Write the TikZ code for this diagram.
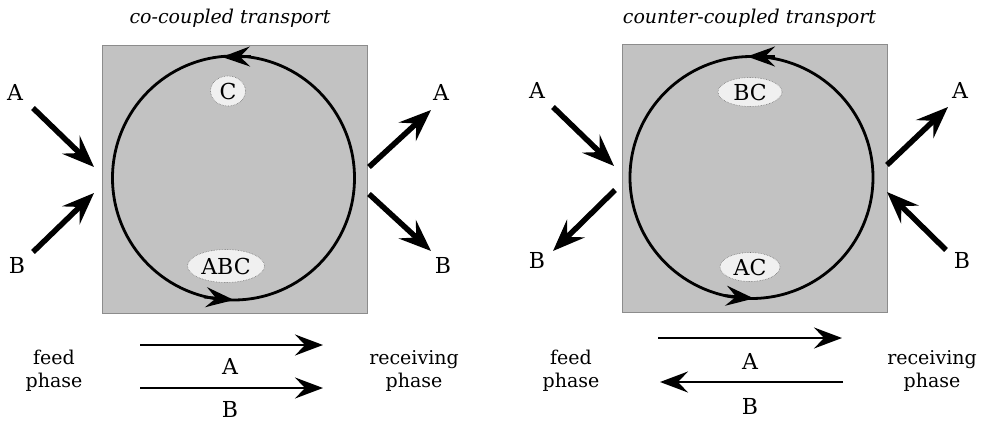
\documentclass[tikz,border=0pt]{standalone}
\usepackage{fontspec}
\setmainfont{DejaVu Serif}
\usetikzlibrary{arrows.meta,shapes.geometric}
\begin{document}
\begin{tikzpicture}[x=1pt,y=-1pt,
  membrane/.style={fill=black!24, draw=black!45, line width=0.6pt, inner sep=0pt},
  cyc/.style={ellipse, draw=black, line width=2.8pt, inner sep=0pt},
  cychead/.style={line width=2.8pt, -{Stealth[length=28pt,width=20pt,inset=10pt]}},
  bigarrow/.style={line width=5.5pt, -{Stealth[length=32pt,width=25pt,inset=12pt]}},
  flow/.style={line width=2.6pt, -{Stealth[length=28pt,width=21pt,inset=10pt]}},
  lab/.style={font=\fontsize{22}{26}\selectfont, inner sep=0pt},
  tag/.style={ellipse, fill=black!6, draw=black!55, densely dotted, line width=0.6pt, inner sep=0pt, font=\fontsize{22}{26}\selectfont},
  ttl/.style={font=\itshape\fontsize{19}{23}\selectfont, inner sep=0pt},
  phase/.style={align=center, font=\fontsize{19}{23}\selectfont, inner sep=0pt}]
\useasboundingbox (0,0) rectangle (983,423);
\fill[white] (0,0) rectangle (983,423);

% ---------- left panel: co-coupled ----------
\node[ttl] (t1) at (230,18) {co-coupled transport};
\node[membrane, minimum width=265pt, minimum height=268pt] (box1) at (234.5,179) {};
\node[cyc, minimum width=242pt, minimum height=244pt] (cy1) at (233.5,178) {};
\coordinate (c1a) at (251,56.5);
\coordinate (c1b) at (222,57);
\draw[cychead] (c1a) -- (c1b);
\coordinate (c1c) at (204,297);
\coordinate (c1d) at (234,300);
\draw[cychead] (c1c) -- (c1d);
\node[tag, minimum width=35pt, minimum height=30pt] (C1) at (228,91) {C};
\node[tag, minimum width=77pt, minimum height=33pt] (ABC1) at (226,266) {ABC};

\node[lab] (lA1) at (15,92) {A};
\node[lab] (lB1) at (17,265) {B};
\node[lab] (rA1) at (441,92) {A};
\node[lab] (rB1) at (443,265) {B};
\coordinate (p1s) at (33,108);  \coordinate (p1e) at (94,167);
\coordinate (p2s) at (33,252);  \coordinate (p2e) at (94,193);
\coordinate (p3s) at (369,167); \coordinate (p3e) at (431,110);
\coordinate (p4s) at (369,194); \coordinate (p4e) at (431,251);
\draw[bigarrow] (p1s) -- (p1e);
\draw[bigarrow] (p2s) -- (p2e);
\draw[bigarrow] (p3s) -- (p3e);
\draw[bigarrow] (p4s) -- (p4e);

% ---------- right panel: counter-coupled ----------
\node[ttl] (t2) at (749.5,18) {counter-coupled transport};
\node[membrane, minimum width=265pt, minimum height=268pt] (box2) at (754.5,178) {};
\node[cyc, minimum width=243pt, minimum height=242pt] (cy2) at (751.5,177.5) {};
\coordinate (c2a) at (775,56.5);
\coordinate (c2b) at (747,56.5);
\draw[cychead] (c2a) -- (c2b);
\coordinate (c2c) at (724,295.5);
\coordinate (c2d) at (754,298.5);
\draw[cychead] (c2c) -- (c2d);
\node[tag, minimum width=64pt, minimum height=29pt] (BC2) at (750,92) {BC};
\node[tag, minimum width=60pt, minimum height=29pt] (AC2) at (750,267) {AC};

\node[lab] (lA2) at (537,90) {A};
\node[lab] (lB2) at (537,260) {B};
\node[lab] (rA2) at (960,90) {A};
\node[lab] (rB2) at (962,260) {B};
\coordinate (q1s) at (553,107); \coordinate (q1e) at (614,166);
\coordinate (q2s) at (615,190); \coordinate (q2e) at (553,251);
\coordinate (q3s) at (887,165); \coordinate (q3e) at (948,107);
\coordinate (q4s) at (946,250); \coordinate (q4e) at (887,192);
\draw[bigarrow] (q1s) -- (q1e);
\draw[bigarrow] (q2s) -- (q2e);
\draw[bigarrow] (q3s) -- (q3e);
\draw[bigarrow] (q4s) -- (q4e);

% ---------- bottom: phases ----------
\node[phase] (fp1) at (54,371) {feed\\phase};
\node[phase] (rp1) at (414,371) {receiving\\phase};
\coordinate (f1s) at (140,345); \coordinate (f1e) at (323,345);
\coordinate (f2s) at (140,388); \coordinate (f2e) at (323,388);
\draw[flow] (f1s) -- (f1e);
\draw[flow] (f2s) -- (f2e);
\node[lab] (bA1) at (230,366) {A};
\node[lab] (bB1) at (230,409) {B};

\node[phase] (fp2) at (571,371) {feed\\phase};
\node[phase] (rp2) at (932,371) {receiving\\phase};
\coordinate (f3s) at (658,338); \coordinate (f3e) at (842,338);
\coordinate (f4s) at (843,382); \coordinate (f4e) at (660,382);
\draw[flow] (f3s) -- (f3e);
\draw[flow] (f4s) -- (f4e);
\node[lab] (bA2) at (750,361) {A};
\node[lab] (bB2) at (750,406) {B};
\end{tikzpicture}
\end{document}
